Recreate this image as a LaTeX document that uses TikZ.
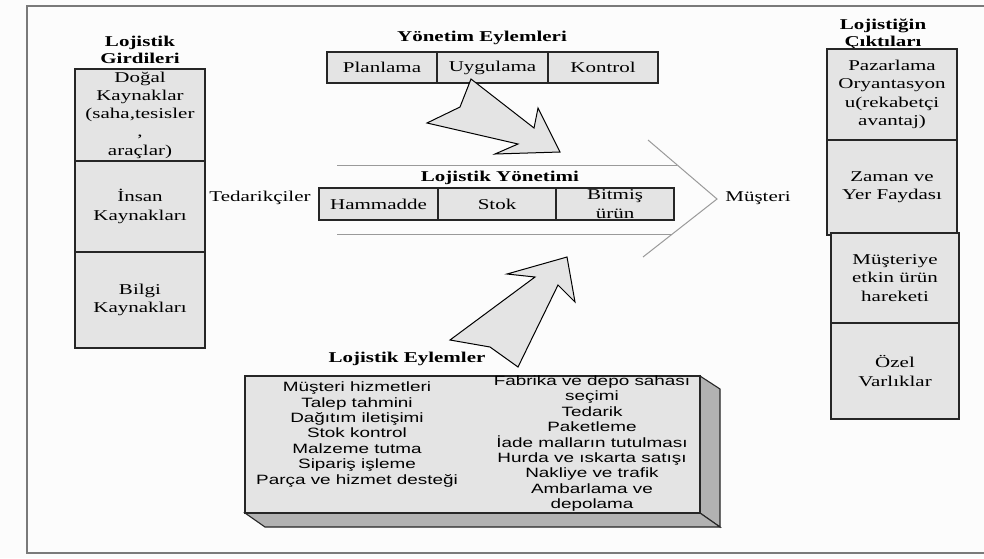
\documentclass[tikz,border=0pt]{standalone}
\usepackage{fontspec}
\newfontfamily\serifF{Liberation Serif}[FakeStretch=1.4]
\newfontfamily\sansF{Liberation Sans}[FakeStretch=1.4]
\definecolor{boxgray}{HTML}{E4E4E4}
\definecolor{sidegray}{HTML}{B2B2B2}
\definecolor{framegray}{HTML}{7A7A7A}
\definecolor{chevgray}{HTML}{9A9A9A}
\definecolor{bggray}{HTML}{FCFCFC}
\tikzset{
  cell/.style={draw=black!85, fill=boxgray, line width=1.1pt, inner sep=0pt, align=center,
    font=\serifF\fontsize{15}{18.3}\selectfont},
  title/.style={inner sep=0pt, align=center, font=\serifF\bfseries\fontsize{15}{17}\selectfont},
  plain/.style={inner sep=0pt, align=center, font=\serifF\fontsize{15}{18.3}\selectfont},
  acttext/.style={inner sep=0pt, align=center, font=\sansF\fontsize{13.5}{15.4}\selectfont},
  bigarrow/.style={draw=black, fill=boxgray, line width=1pt, line join=miter},
  chev/.style={draw=chevgray, line width=1pt},
  frameline/.style={draw=framegray, line width=1.6pt},
  face/.style={draw=black!85, line width=1.1pt, line join=miter}
}
\begin{document}
\begin{tikzpicture}[x=1pt,y=-1pt]
\useasboundingbox[fill=bggray] (0,0) rectangle (984,558);
\draw[frameline] (995,6) -- (27,6) -- (27,553) -- (995,553);

% Left column
\node[title] (gtitle) at (140,50) {Lojistik\\Girdileri};
\node[cell, minimum width=130pt, minimum height=92pt] (g1) at (140,115)
  {Doğal\\Kaynaklar\\(saha,tesisler\\,\\araçlar)};
\node[cell, minimum width=130pt, minimum height=91pt] (g2) at (140,206.5)
  {İnsan\\Kaynakları};
\node[cell, minimum width=130pt, minimum height=96pt] (g3) at (140,300)
  {Bilgi\\Kaynakları};

% Yonetim Eylemleri
\node[title] (ytitle) at (482,38) {Yönetim Eylemleri};
\node[cell, minimum width=110pt, minimum height=31pt] (plan) at (382,67.5) {Planlama};
\node[cell, minimum width=111pt, minimum height=31pt] (uyg) at (492.5,67.5) {Uygulama};
\node[cell, minimum width=110pt, minimum height=31pt] (kont) at (603,67.5) {Kontrol};

% Chevron
\draw[chev] (337,165) -- (677,165);
\draw[chev] (337,234) -- (672,234);
\draw[chev] (648,140) -- (717,199) -- (643,257);

% Lojistik Yonetimi
\node[title] (lytitle) at (500,178) {Lojistik Yönetimi};
\node[cell, minimum width=119pt, minimum height=32pt] (ham) at (378.5,204) {Hammadde};
\node[cell, minimum width=118pt, minimum height=32pt] (stok) at (497,204) {Stok};
\node[cell, minimum width=118pt, minimum height=32pt] (bit) at (615,204) {Bitmiş\\ürün};
\node[plain] (ted) at (260,198) {Tedarikçiler};
\node[plain] (mus) at (758,198) {Müşteri};

% Upper big arrow
\draw[bigarrow] (471,79) -- (534,128) -- (538,108) -- (560,152) -- (495,154)
  -- (518,144) -- (427,123) -- (460,107) -- cycle;
% Lower big arrow
\draw[bigarrow] (567,257) -- (575,302) -- (558,285) -- (518,367) -- (490,347)
  -- (450,340) -- (535,277) -- (507,274) -- cycle;

% Right column
\node[title] (ctitle) at (883,34) {Lojistiğin\\Çıktıları};
\node[cell, minimum width=130pt, minimum height=91pt] (c1) at (892,94.5)
  {Pazarlama\\Oryantasyon\\u(rekabetçi\\avantaj)};
\node[cell, minimum width=130pt, minimum height=95pt] (c2) at (892,187.5)
  {Zaman ve\\Yer Faydası};
\node[cell, minimum width=128pt, minimum height=90pt] (c3) at (895,278)
  {Müşteriye\\etkin ürün\\hareketi};
\node[cell, minimum width=128pt, minimum height=96pt] (c4) at (895,371)
  {Özel\\Varlıklar};

% Lojistik Eylemler 3D box
\node[title] (letitle) at (407,359) {Lojistik Eylemler};
\draw[face, fill=sidegray] (700,376) -- (720,389) -- (720,527) -- (700,513) -- cycle;
\draw[face, fill=sidegray] (245,513) -- (700,513) -- (720,527) -- (265,527) -- cycle;
\node[draw=black!85, fill=boxgray, line width=1.1pt, minimum width=455pt, minimum height=137pt, inner sep=0pt]
  (acts) at (472.5,444.5) {};
\node[acttext] (actl) at (357,434.5)
  {Müşteri hizmetleri\\Talep tahmini\\Dağıtım iletişimi\\Stok kontrol\\Malzeme tutma\\Sipariş işleme\\Parça ve hizmet desteği};
\node[acttext] (actr) at (592,443.5)
  {Fabrika ve depo sahası\\seçimi\\Tedarik\\Paketleme\\İade malların tutulması\\Hurda ve ıskarta satışı\\Nakliye ve trafik\\Ambarlama ve\\depolama};
\end{tikzpicture}
\end{document}
